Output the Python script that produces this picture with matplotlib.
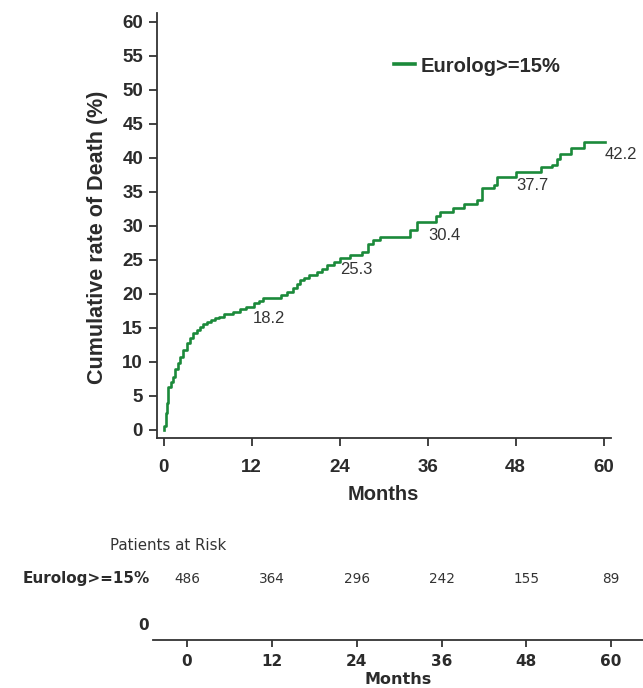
import matplotlib
matplotlib.use("Agg")
import matplotlib.pyplot as plt

# ---- data ----
months = [0, 0.1, 0.3, 0.44, 0.66, 1.0, 1.34, 1.57, 2.0, 2.25, 2.7, 3.16, 3.6, 4.07,
          4.5, 4.98, 5.4, 5.9, 6.5, 7.0, 7.6, 8.2, 9.5, 10.4, 11.3, 12.3, 13.0, 13.6,
          15.4, 16.0, 16.8, 17.7, 18.2, 18.6, 19.2, 19.8, 20.9, 21.6, 22.3, 23.2, 24.1,
          25.4, 27.0, 27.9, 28.6, 29.5, 32.7, 33.6, 34.5, 36.6, 37.2, 37.7, 39.5, 40.9,
          42.7, 43.4, 45.0, 45.5, 47.7, 48.0, 50.5, 51.4, 53.0, 53.6, 54.1, 55.5, 57.1,
          57.3, 60.2]
cum_death = [0, 0.5, 2.5, 3.9, 6.3, 7.0, 7.8, 9.0, 9.8, 10.7, 11.8, 12.7, 13.5, 14.2,
             14.7, 15.1, 15.5, 15.9, 16.1, 16.4, 16.6, 17.1, 17.4, 17.7, 18.1, 18.7, 19.0, 19.4,
             19.4, 19.8, 20.3, 20.8, 21.5, 22.0, 22.4, 22.7, 23.2, 23.7, 24.2, 24.7, 25.3,
             25.7, 26.2, 27.4, 27.9, 28.4, 28.4, 29.4, 30.6, 30.6, 31.5, 32.1, 32.6, 33.2,
             33.8, 35.5, 36.0, 37.2, 37.2, 37.9, 37.9, 38.6, 38.9, 39.8, 40.6, 41.4, 41.4,
             42.4, 42.4]
label_months = [12, 24, 36, 48, 60]
label_values = [18.2, 25.3, 30.4, 37.7, 42.2]
series_name = "Eurolog>=15%"
risk_months = [0, 12, 24, 36, 48, 60]
at_risk = [486, 364, 296, 242, 155, 89]
xticks = [0, 12, 24, 36, 48, 60]
yticks = list(range(0, 61, 5))

GREEN = "#1b8a3a"
DARK = "#2b2b2b"
SANS = ["Liberation Sans", "DejaVu Sans"]

W, H = 643, 688
fig = plt.figure(figsize=(W / 100, H / 100), dpi=100)

def fbox(x0, y0, x1, y1):
    return [x0 / W, 1 - y1 / H, (x1 - x0) / W, (y1 - y0) / H]

# ---- main axes ----
ax = fig.add_axes(fbox(157, 13, 611, 438))
ax.plot(months, cum_death, drawstyle="steps-post", color=GREEN, lw=1.9, label=series_name)
ax.set_xlim(-0.9, 61.0)
ax.set_ylim(-1.2, 61.3)
ax.set_xticks(xticks)
ax.set_yticks(yticks)
for s in ["top", "right"]:
    ax.spines[s].set_visible(False)
for s in ["left", "bottom"]:
    ax.spines[s].set_color("#333333")
    ax.spines[s].set_linewidth(1.3)
ax.tick_params(axis="both", direction="out", length=6, width=1.3, color="#333333",
               labelcolor=DARK)
ax.tick_params(axis="x", pad=9)
ax.tick_params(axis="y", pad=4)
for t in ax.get_xticklabels() + ax.get_yticklabels():
    t.set_fontfamily(SANS)
    t.set_fontweight("bold")
    t.set_fontsize(13.5)
xl = ax.set_xlabel("Months", fontfamily=SANS, fontweight="bold", fontsize=14.5, color=DARK)
xl.set_va("center")
ax.xaxis.set_label_coords((383.5 - 157) / 454, (438 - 495) / 425)
yl = ax.set_ylabel("Cumulative rate of Death (%)", fontfamily=SANS, fontweight="bold",
                   fontsize=15.5, color=DARK)
yl.set_va("center")
ax.yaxis.set_label_coords((98 - 157) / 454, (438 - 237) / 425)

for m, v in zip(label_months, label_values):
    ax.annotate(f"{v:.1f}", xy=(m, v), xytext=(17, -12), textcoords="offset pixels",
                ha="center", va="center", fontsize=12, fontfamily=SANS, color="#333333")

leg = ax.legend(loc="center left", bbox_to_anchor=(394 / W, 1 - 66 / H),
                bbox_transform=fig.transFigure, frameon=False, handlelength=1.05,
                handletextpad=0.25, borderpad=0, borderaxespad=0,
                prop={"family": SANS, "weight": "bold", "size": 14.5})
for line in leg.get_lines():
    line.set_linewidth(2.6)
for t in leg.get_texts():
    t.set_color(DARK)

# ---- risk table ----
bx = fig.add_axes(fbox(153, 530, 643, 640))
bx.set_xlim(-4.81, 64.5)
bx.set_ylim(0, 1)
for s in ["top", "right", "left"]:
    bx.spines[s].set_visible(False)
bx.spines["bottom"].set_color("#333333")
bx.spines["bottom"].set_linewidth(1.3)
bx.set_yticks([])
bx.set_xticks(xticks)
bx.tick_params(axis="x", direction="out", length=5, width=1.3, color="#333333",
               labelcolor=DARK, pad=5)
for t in bx.get_xticklabels():
    t.set_fontfamily("DejaVu Sans")
    t.set_fontweight("bold")
    t.set_fontsize(11)
bxl = bx.set_xlabel("Months", fontfamily="DejaVu Sans", fontweight="bold", fontsize=11.5,
                    color=DARK)
bxl.set_va("center")
bx.xaxis.set_label_coords((398 - 153) / 490, (640 - 680) / 110)

row_y = (640 - 579) / 110
for m, n in zip(risk_months, at_risk):
    bx.text(m, row_y, str(n), transform=bx.get_xaxis_transform(), ha="center",
            va="center", fontsize=9.8, fontfamily="DejaVu Sans", color="#333333")

fig.text(110 / W, 1 - 545 / H, "Patients at Risk", ha="left", va="center",
         fontsize=10.8, fontfamily="DejaVu Sans", color="#333333")
fig.text(150 / W, 1 - 579 / H, series_name, ha="right", va="center",
         fontsize=11, fontfamily="DejaVu Sans", fontweight="bold", color=DARK)
fig.text(149 / W, 1 - 625 / H, "0", ha="right", va="center",
         fontsize=11, fontfamily="DejaVu Sans", fontweight="bold", color=DARK)

fig.savefig("out.png", dpi=100)
